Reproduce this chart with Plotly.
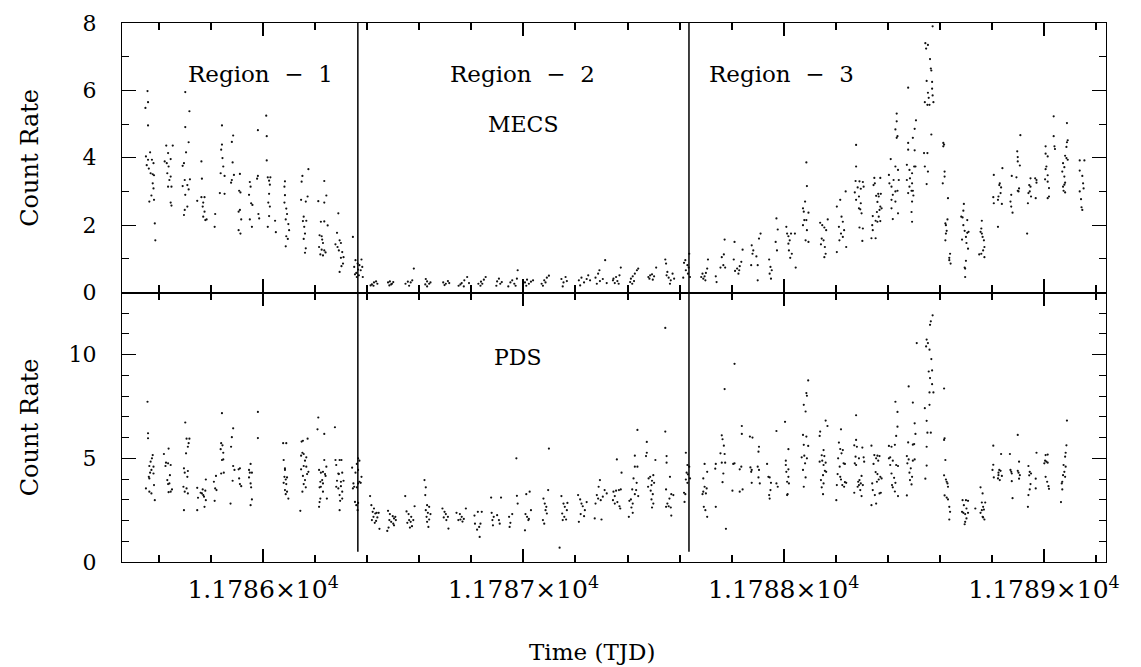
import plotly.graph_objects as go

# Times are given as TJD - 11785; count rates in counts/s
TJD0 = 11785.0
BOUND_1_2 = 11786.364   # boundary Region 1 / Region 2
BOUND_2_3 = 11787.636   # boundary Region 2 / Region 3

x_tick_alias = {"11786": "1.1786×10<sup>4</sup>", "11787": "1.1787×10<sup>4</sup>",
                "11788": "1.1788×10<sup>4</sup>", "11789": "1.1789×10<sup>4</sup>"}
mecs_yticks = [0, 2, 4, 6, 8]
pds_yticks = [0, 5, 10]

# ---------------- MECS ----------------
mecs_r1_t = [
    0.556,0.558,0.548,0.558,0.566,0.550,0.558,0.573,0.579,0.553,0.561,0.568,0.576,0.581,0.576,0.579,0.571,0.581,0.563,0.584,0.586,
    0.628,0.653,0.635,0.622,0.645,0.630,0.637,0.632,0.645,0.640,0.648,0.635,0.645,0.648,
    0.701,0.717,0.701,0.714,0.704,0.696,0.691,0.699,0.709,0.691,0.714,0.719,0.701,0.709,0.699,0.696,
    0.763,0.765,0.747,0.763,0.775,0.770,0.768,0.775,0.770,0.778,0.783,
    0.816,0.814,
    0.842,0.842,0.839,0.844,0.837,0.847,0.852,0.834,0.852,0.885,0.880,0.883,0.888,0.880,0.877,
    0.911,0.908,0.913,0.906,0.911,0.916,0.906,0.913,
    0.980,0.980,0.977,0.949,0.952,0.946,0.954,0.959,0.949,0.957,0.982,0.985,
    1.012,1.014,1.014,1.018,1.028,1.023,1.026,1.023,1.020,1.026,1.018,1.023,
    1.046,1.049,
    1.084,1.082,1.084,1.082,1.089,1.092,1.087,1.097,1.100,1.089,1.095,1.087,
    1.174,1.151,1.148,1.146,1.164,1.171,1.156,1.153,1.166,1.158,1.161,1.156,1.164,1.161,
    1.235,1.243,1.212,1.235,1.222,1.235,1.248,1.217,1.225,1.227,1.230,1.215,1.225,1.235,1.220,1.240,1.230,
    1.289,1.284,1.294,1.278,1.299,1.286,1.291,1.304,1.299,1.309,1.307,1.301,1.294,
    1.345,1.355,1.363,1.350,1.370,1.365,1.378,1.358,1.368,1.375,1.353,1.360,1.381,1.383,
]
mecs_r1_rate = [
    5.98,5.65,5.48,4.96,4.16,4.04,3.94,3.94,3.84,3.78,3.68,3.54,3.51,3.48,3.24,3.09,2.88,2.75,2.70,2.05,1.55,
    4.36,4.36,4.14,3.89,3.96,3.84,3.74,3.54,3.44,3.34,3.14,3.14,2.67,2.58,
    5.95,5.38,4.91,4.46,4.16,3.84,3.76,3.34,3.19,3.16,3.06,3.36,2.90,2.55,2.45,2.30,
    3.89,3.38,2.72,2.83,2.83,2.67,2.55,2.40,2.25,2.15,2.17,
    2.33,1.95,
    4.96,4.39,4.24,3.99,3.54,3.74,3.46,2.95,2.93,4.66,4.47,3.86,3.49,3.34,3.26,
    3.52,3.02,2.97,2.40,2.45,2.17,1.85,1.75,
    4.82,3.46,3.38,3.28,3.14,2.90,2.65,2.60,2.17,1.95,2.33,2.20,
    5.25,4.64,3.92,3.42,3.42,3.32,3.20,2.93,2.67,2.55,1.95,2.27,
    2.13,1.79,
    3.30,3.14,2.89,2.67,2.49,2.33,2.17,2.03,1.85,1.67,1.59,1.37,
    3.66,3.46,3.29,2.75,2.70,2.85,2.25,2.12,2.13,1.95,1.75,1.59,1.31,1.18,
    3.31,2.88,2.71,2.67,2.10,2.11,1.99,1.70,1.67,1.57,1.47,1.35,1.27,1.25,1.13,1.19,1.10,
    2.35,1.77,1.55,1.43,1.47,1.35,1.25,1.20,1.03,1.05,0.86,0.78,0.61,
    1.65,0.96,0.86,0.76,0.81,0.68,0.98,0.58,0.51,0.66,0.54,0.46,0.76,0.46,
]

mecs_r2_t = [
    1.426,1.418,1.434,1.439,1.424,1.413,
    1.480,1.487,1.495,1.500,1.485,1.492,
    1.547,1.556,1.567,1.573,1.561,1.579,
    1.625,1.630,1.638,1.623,1.643,1.630,
    1.692,1.702,1.710,1.697,1.715,
    1.751,1.763,1.773,1.784,1.771,1.791,1.758,
    1.827,1.837,1.848,1.855,1.835,1.842,
    1.899,1.906,1.911,1.896,1.917,
    1.950,1.957,1.965,1.975,1.978,1.942,1.970,
    2.006,2.014,2.021,2.029,2.011,2.037,
    2.070,2.080,2.090,2.098,2.075,2.085,
    2.146,2.154,2.162,2.167,2.151,
    2.213,2.223,2.233,2.243,2.249,2.218,2.256,
    2.277,2.287,2.294,2.292,2.305,2.314,2.282,2.320,
    2.346,2.356,2.361,2.369,2.374,2.351,2.366,2.344,
    2.413,2.420,2.428,2.436,2.441,2.418,2.425,2.410,
    2.480,2.487,2.494,2.502,2.510,2.484,2.497,
    2.545,2.548,2.553,2.558,2.566,2.573,2.579,2.563,2.550,
    2.617,2.622,2.630,2.635,2.624,2.632,2.614,2.637,2.640,
]
mecs_r2_rate = [
    0.30,0.24,0.33,0.26,0.20,0.21,
    0.30,0.33,0.26,0.31,0.21,0.24,
    0.26,0.32,0.30,0.36,0.20,0.71,
    0.40,0.33,0.26,0.24,0.30,0.18,
    0.30,0.26,0.34,0.22,0.28,
    0.20,0.28,0.36,0.46,0.18,0.28,0.24,
    0.26,0.32,0.38,0.46,0.20,0.26,
    0.33,0.41,0.26,0.20,0.31,
    0.30,0.36,0.26,0.41,0.66,0.18,0.20,
    0.30,0.38,0.26,0.32,0.20,0.36,
    0.26,0.36,0.44,0.50,0.20,0.30,
    0.40,0.30,0.46,0.34,0.18,
    0.36,0.44,0.30,0.40,0.51,0.21,0.36,
    0.44,0.56,0.34,0.66,0.40,0.96,0.26,0.28,
    0.41,0.46,0.34,0.51,0.74,0.28,0.26,0.36,
    0.41,0.48,0.56,0.66,0.71,0.26,0.34,0.31,
    0.46,0.51,0.54,0.48,0.74,0.41,0.38,
    0.98,0.86,0.61,0.44,0.36,0.56,0.41,0.26,0.51,
    0.88,0.96,0.81,0.74,0.66,0.56,0.44,1.15,0.46,
]

mecs_r3_t = [
    2.688,2.696,2.701,2.706,2.709,2.691,2.699,2.683,
    2.739,2.742,2.757,2.762,2.770,2.775,2.768,2.773,
    2.811,2.808,2.813,2.821,2.831,2.837,2.842,2.826,2.829,
    2.877,2.883,2.880,2.895,2.900,2.905,2.911,2.900,2.875,
    2.944,2.949,2.946,2.951,2.954,2.972,2.977,2.969,2.974,
    3.010,3.013,3.018,3.023,3.028,3.018,3.020,3.025,3.043,3.046,3.031,
    3.087,3.089,3.082,3.074,3.077,3.079,3.087,3.095,3.074,3.089,3.084,3.095,
    3.140,3.148,3.156,3.163,3.169,3.143,3.153,3.158,3.161,3.156,3.146,
    3.204,3.217,3.222,3.227,3.212,3.220,3.227,3.238,3.232,3.240,3.204,3.214,
    3.278,3.278,3.276,3.291,3.304,3.307,3.284,3.296,3.273,3.289,3.278,3.296,3.289,3.294,3.299,3.291,3.304,3.302,
    3.348,3.371,3.350,3.345,3.363,3.373,3.355,3.365,3.360,3.371,3.376,3.368,3.358,3.342,3.365,3.353,3.360,3.371,3.340,3.342,3.337,3.353,
    3.434,3.434,3.429,3.434,3.437,3.411,3.429,3.439,3.404,3.422,3.442,3.406,3.414,3.429,3.437,3.419,3.414,3.429,3.414,3.439,3.419,
    3.478,3.508,3.503,3.496,3.478,3.478,3.503,3.473,3.483,3.501,3.506,3.493,3.473,3.485,3.493,3.483,3.491,3.496,3.478,3.498,3.493,3.491,3.493,
    3.572,3.544,3.554,3.547,3.562,3.565,3.567,3.549,3.570,3.570,3.554,3.572,3.557,3.542,3.552,3.560,3.575,3.567,3.539,3.552,3.542,3.554,3.549,
    3.613,3.616,3.613,3.618,3.618,3.611,3.631,3.621,3.629,3.623,3.626,3.623,3.621,3.639,3.636,3.641,3.636,
    3.692,3.690,3.682,3.687,3.705,3.690,3.695,3.705,3.710,3.700,3.685,3.702,3.708,3.700,3.695,3.697,3.697,
    3.761,3.759,3.756,3.761,3.764,3.769,3.771,3.766,3.759,3.771,3.751,
    3.807,3.840,3.805,3.807,3.830,3.828,3.835,3.833,3.825,3.823,3.838,3.823,
    3.909,3.897,3.899,3.899,3.907,3.876,3.894,3.874,3.871,3.879,3.874,3.899,3.902,3.904,
    3.948,3.966,3.971,3.943,3.971,3.948,3.940,3.945,3.950,3.968,3.938,3.935,
    4.037,4.037,4.006,4.040,4.042,4.006,4.014,4.009,4.006,4.014,4.004,4.014,4.019,4.019,4.014,
    4.088,4.091,4.088,4.086,4.081,4.086,4.091,4.073,4.078,4.070,4.078,4.081,4.078,4.073,4.075,4.081,
    4.137,4.155,4.137,4.147,4.150,4.152,4.137,4.142,4.144,4.147,
]
mecs_r3_rate = [
    0.56,0.48,0.58,0.71,0.98,0.41,0.36,0.46,
    0.48,0.31,0.74,1.05,1.13,0.74,0.81,1.57,
    1.50,0.98,0.64,0.71,0.78,0.91,1.27,0.56,0.66,
    1.40,1.25,1.15,1.07,0.81,1.60,1.75,0.36,0.81,
    0.98,0.76,0.56,0.41,0.66,2.20,1.87,1.50,1.25,
    1.95,1.75,1.67,1.55,1.75,1.45,1.25,1.03,1.75,0.74,1.15,
    3.86,3.16,2.70,2.50,2.40,2.15,2.15,2.37,2.00,1.85,1.55,1.50,
    2.07,2.00,1.93,1.85,2.17,1.43,1.55,1.35,1.15,1.05,1.60,
    2.55,2.75,2.25,2.10,1.95,1.75,1.65,3.00,1.85,1.35,1.20,1.55,
    4.38,3.74,3.31,3.30,3.28,3.14,3.12,3.08,2.97,2.85,2.75,2.65,2.50,2.47,2.35,1.93,1.90,1.53,
    3.40,3.40,3.24,3.19,2.93,2.93,2.87,2.85,2.69,2.55,2.50,2.45,2.39,2.27,2.25,2.13,2.10,2.12,2.00,1.85,1.61,1.61,
    5.31,5.08,4.84,4.59,4.64,3.96,3.74,3.64,3.49,3.34,3.34,3.24,3.14,3.00,3.02,2.90,2.75,2.70,2.50,2.35,2.18,
    6.08,5.11,4.86,4.59,4.44,4.24,4.22,3.79,3.64,3.74,3.74,3.54,3.34,3.39,3.24,3.14,3.02,3.02,2.95,2.88,2.70,2.39,2.10,
    7.90,7.40,7.35,7.24,6.93,6.65,6.59,6.28,6.25,6.05,5.93,5.85,5.78,5.65,5.57,5.57,5.65,4.69,4.14,4.14,3.74,3.59,3.22,
    4.44,4.39,4.34,3.59,3.44,3.24,2.80,2.05,2.17,2.00,1.83,1.75,1.55,1.15,0.96,0.86,1.03,
    2.63,2.43,2.25,2.23,2.15,2.00,1.83,1.77,1.80,1.65,1.57,1.47,1.30,0.94,0.74,0.71,0.46,
    2.13,1.90,1.80,1.75,1.65,1.55,1.35,1.25,1.15,1.05,1.13,
    3.49,3.69,2.83,2.65,3.24,3.19,3.12,2.95,2.85,2.75,2.63,1.95,
    4.67,4.19,4.02,3.89,3.77,3.46,3.42,2.90,2.70,2.37,2.55,3.02,3.00,3.09,
    3.39,3.39,3.34,3.19,3.26,3.14,2.95,3.00,2.85,2.80,2.65,1.75,
    5.23,4.64,4.34,4.34,4.26,4.12,4.04,3.74,3.66,3.48,3.36,3.29,3.10,2.85,2.80,
    5.03,4.52,4.46,4.32,4.06,3.99,3.94,3.84,3.72,3.59,3.44,3.26,3.20,3.14,3.02,2.97,
    3.92,3.92,3.62,3.46,3.24,3.09,3.00,2.77,2.53,2.45,
]

# ---------------- PDS ----------------
pds_r1_t = [
    0.556,0.558,0.558,0.576,0.573,0.568,0.579,0.563,0.571,0.566,0.561,0.579,0.563,0.581,0.550,0.563,0.571,0.584,
    0.637,0.619,0.627,0.635,0.645,0.625,0.642,0.632,0.640,0.635,0.650,0.645,0.637,
    0.701,0.706,0.717,0.714,0.711,0.704,0.696,0.711,0.699,0.709,0.694,0.706,0.699,0.711,0.696,
    0.780,0.747,0.768,0.778,0.765,0.770,0.760,0.773,0.750,0.780,0.775,0.747,
    0.842,0.839,0.844,0.837,0.847,0.842,0.847,0.849,0.839,0.819,0.811,0.816,0.821,0.814,
    0.885,0.880,0.877,0.885,0.890,0.883,0.911,0.906,0.908,0.911,0.916,0.875,
    0.980,0.980,0.952,0.946,0.949,0.946,0.957,0.952,0.954,0.957,0.952,
    1.077,1.089,1.079,1.084,1.084,1.082,1.092,1.087,1.079,1.089,1.084,1.092,1.087,1.097,
    1.148,1.153,1.171,1.151,1.156,1.146,1.166,1.161,1.156,1.146,1.166,1.174,1.169,1.153,1.161,1.156,1.151,1.164,1.143,
    1.212,1.209,1.235,1.235,1.243,1.215,1.230,1.222,1.238,1.240,1.227,1.220,1.230,1.222,1.217,1.230,1.220,1.245,1.217,1.215,
    1.276,1.278,1.294,1.301,1.281,1.289,1.291,1.304,1.309,1.284,1.299,1.281,1.289,1.299,1.304,1.294,1.304,1.296,1.294,
    1.342,1.365,1.370,1.360,1.365,1.355,1.378,1.370,1.347,1.350,1.365,1.360,1.345,1.375,1.353,1.365,1.358,1.363,
]
pds_r1_rate = [
    7.73,6.21,5.97,5.16,5.00,4.84,4.60,4.63,4.44,4.31,4.11,4.27,4.03,3.71,3.55,3.39,3.31,2.98,
    5.47,5.21,4.79,4.76,4.68,4.63,4.19,3.95,3.79,3.76,3.50,3.39,3.37,
    6.73,5.95,5.95,5.73,5.56,5.24,4.52,4.39,4.31,4.11,3.63,3.55,3.39,3.31,2.50,
    3.98,3.58,3.50,3.44,3.31,3.23,3.34,3.15,3.10,2.98,2.66,2.50,
    7.18,5.73,5.63,5.44,5.27,4.92,4.95,4.31,4.27,4.15,3.87,3.55,3.47,2.95,
    6.45,6.02,5.56,4.63,4.44,3.92,4.52,4.47,4.03,3.76,3.66,2.82,
    7.24,5.98,4.73,4.44,4.31,4.08,4.31,3.79,3.60,3.02,2.74,
    5.73,5.73,4.92,4.52,4.44,4.11,4.08,3.98,3.82,3.76,3.47,3.39,3.27,3.06,
    5.81,5.85,5.95,5.27,5.21,5.13,5.05,4.89,4.63,4.47,4.60,4.35,4.24,4.15,3.95,3.76,3.39,3.60,2.47,
    6.97,6.40,6.18,4.92,4.60,4.44,4.35,4.31,4.24,4.15,3.95,3.87,3.79,3.63,3.60,3.39,3.06,3.06,2.89,2.66,
    6.50,4.92,4.92,4.92,4.68,4.27,4.24,4.31,3.92,3.92,3.87,3.63,3.55,3.66,3.39,3.23,3.06,2.95,2.50,
    4.55,5.00,4.89,4.73,4.44,4.31,4.11,3.87,3.79,3.63,3.79,3.60,3.55,3.82,2.90,2.85,2.74,2.50,
]

pds_r2_t = [
    1.411,1.416,1.426,1.421,1.431,1.436,1.424,1.439,1.418,1.429,1.434,1.444,1.447,
    1.480,1.487,1.498,1.503,1.508,1.485,1.492,1.500,1.510,1.482,1.477,1.503,
    1.546,1.551,1.559,1.569,1.561,1.567,1.577,1.554,1.572,1.564,1.582,
    1.620,1.625,1.623,1.630,1.638,1.625,1.633,1.643,1.628,1.638,1.630,1.635,
    1.689,1.697,1.702,1.694,1.704,1.712,1.710,
    1.743,1.756,1.763,1.771,1.779,1.750,1.766,1.758,
    1.812,1.814,1.822,1.830,1.835,1.840,1.825,1.832,
    1.876,1.878,1.886,1.881,1.883,1.899,1.906,1.909,1.914,
    1.945,1.950,1.947,1.957,1.973,1.975,1.978,
    2.008,2.014,2.019,2.006,2.021,2.011,2.024,2.029,
    2.077,2.082,2.085,2.090,2.095,2.098,2.075,2.080,2.088,
    2.146,2.154,2.159,2.167,2.149,2.157,2.164,2.169,2.151,2.139,
    2.210,2.218,2.223,2.228,2.236,2.243,2.220,2.233,2.213,
    2.294,2.289,2.282,2.287,2.297,2.305,2.312,2.277,2.300,2.274,2.320,
    2.359,2.377,2.346,2.356,2.367,2.374,2.351,2.344,2.361,2.369,2.351,2.372,
    2.438,2.428,2.428,2.438,2.423,2.435,2.433,2.418,2.428,2.441,2.413,2.407,2.420,2.415,2.420,2.405,
    2.474,2.474,2.471,2.507,2.499,2.487,2.481,2.494,2.502,2.492,2.479,2.489,2.497,2.492,2.499,2.494,
    2.545,2.545,2.550,2.550,2.563,2.548,2.568,2.576,2.561,2.553,2.558,2.566,2.548,2.568,
    2.624,2.630,2.637,2.627,2.632,2.640,2.624,2.630,2.617,2.622,2.619,
]
pds_r2_rate = [
    3.18,2.74,2.58,2.42,2.34,2.37,2.18,2.15,2.02,1.89,1.98,2.37,1.60,
    2.47,2.31,2.21,2.10,2.18,2.02,1.94,1.85,2.02,1.66,1.50,1.77,
    3.18,2.44,2.31,2.18,2.02,1.94,2.02,1.89,1.73,1.66,2.69,
    3.95,3.60,3.23,2.74,2.66,2.50,2.37,2.31,2.18,2.05,1.94,1.69,
    2.58,2.42,2.31,2.15,2.02,1.61,2.18,
    2.37,2.31,2.18,2.08,2.58,2.02,1.95,2.05,
    2.24,1.85,1.56,1.69,1.85,2.42,2.42,1.21,
    3.11,2.37,2.18,2.02,1.77,2.26,2.02,1.85,3.11,
    2.18,1.89,1.69,2.31,5.00,3.19,2.82,
    2.31,2.18,2.02,1.53,2.08,3.27,3.39,2.50,
    3.06,2.82,2.50,2.34,3.47,5.47,2.02,1.85,2.66,
    3.18,2.82,2.66,2.50,2.34,2.18,2.05,2.85,2.02,0.69,
    3.23,3.02,2.82,2.69,2.50,2.89,2.31,2.21,1.94,
    3.95,3.63,3.23,3.06,2.98,3.15,3.47,2.82,2.05,2.10,3.31,
    4.95,4.31,3.39,3.44,3.47,3.50,3.18,2.98,2.89,2.69,2.82,2.58,
    6.37,5.13,4.60,4.60,4.03,3.82,3.47,3.50,3.27,3.18,3.02,2.95,2.82,2.63,2.37,2.18,
    5.79,5.27,5.11,4.92,4.19,4.11,4.03,3.92,3.82,3.71,3.63,3.44,3.27,3.02,2.82,2.63,
    11.29,6.29,5.11,4.79,4.11,3.50,3.27,3.23,3.06,2.82,2.69,2.63,2.66,2.24,
    5.27,4.68,4.60,4.31,4.23,4.03,3.98,3.82,3.34,3.27,2.90,
]

pds_r3_t = [
    2.696,2.706,2.691,2.696,2.704,2.691,2.701,2.688,2.693,2.699,2.706,2.739,2.737,2.739,
    2.773,2.762,2.765,2.770,2.757,2.773,2.762,2.775,2.768,2.765,2.778,
    2.811,2.839,2.839,2.806,2.811,2.837,2.831,2.842,2.831,2.803,
    2.870,2.880,2.905,2.903,2.872,2.877,2.875,2.900,2.905,2.903,2.877,2.908,
    2.972,2.936,2.941,2.946,2.951,2.949,2.944,2.946,2.972,2.977,
    3.005,3.018,3.008,3.008,3.018,3.010,3.018,3.013,3.020,3.015,3.013,
    3.094,3.087,3.089,3.077,3.084,3.074,3.087,3.077,3.094,3.069,3.079,3.089,3.082,3.074,3.084,3.077,
    3.161,3.168,3.140,3.138,3.153,3.146,3.156,3.148,3.138,3.161,3.153,3.158,3.163,3.151,3.143,3.153,3.146,3.151,
    3.220,3.212,3.217,3.227,3.222,3.209,3.230,3.235,3.215,3.207,3.217,3.220,3.225,3.235,3.240,3.204,3.232,3.202,
    3.278,3.278,3.271,3.281,3.302,3.276,3.307,3.289,3.273,3.309,3.278,3.299,3.291,3.286,3.296,3.304,3.289,3.284,3.294,3.271,3.299,
    3.337,3.360,3.348,3.355,3.363,3.345,3.368,3.353,3.360,3.371,3.365,3.376,3.340,3.358,3.342,3.373,3.368,3.350,3.337,3.355,
    3.429,3.437,3.437,3.432,3.427,3.404,3.414,3.409,3.404,3.419,3.432,3.439,3.409,3.414,3.424,3.416,3.429,3.419,3.439,3.427,
    3.511,3.480,3.496,3.503,3.506,3.501,3.496,3.478,3.473,3.480,3.496,3.503,3.475,3.488,3.483,3.493,3.485,3.491,3.473,
    3.572,3.565,3.562,3.549,3.554,3.547,3.560,3.567,3.557,3.570,3.562,3.570,3.560,3.575,3.560,3.542,3.549,3.552,3.565,3.549,3.549,3.544,
    3.616,3.616,3.618,3.621,3.616,3.623,3.626,3.629,3.631,3.618,3.626,3.631,3.636,3.639,3.636,
    3.687,3.700,3.708,3.692,3.702,3.685,3.697,3.690,3.702,3.697,3.695,3.708,
    3.736,3.756,3.764,3.761,3.774,3.766,3.761,3.756,3.769,3.764,3.771,3.766,
    3.805,3.835,3.805,3.802,3.828,3.833,3.825,3.825,3.838,3.830,3.807,3.823,
    3.899,3.869,3.904,3.871,3.876,3.874,3.899,3.902,3.907,3.876,3.879,3.904,
    3.971,3.940,3.945,3.950,3.943,3.948,3.945,3.968,3.940,3.938,3.968,
    4.006,4.014,4.004,4.009,4.014,4.001,4.006,4.012,4.017,4.019,
    4.088,4.086,4.083,4.081,4.075,4.083,4.078,4.073,4.081,4.070,4.068,4.070,4.065,
]
pds_r3_rate = [
    4.73,4.35,4.03,3.63,3.55,3.39,3.31,3.27,2.66,2.50,2.18,4.73,4.50,2.66,
    8.34,6.11,5.92,5.61,5.24,5.21,4.79,4.79,4.27,3.85,1.60,
    9.56,6.56,6.18,4.73,4.76,4.60,4.47,3.50,3.39,3.44,
    6.05,6.00,5.56,5.32,4.56,4.44,4.35,4.60,4.44,4.08,3.82,3.79,
    6.32,4.73,4.11,4.08,3.82,3.47,3.23,3.06,3.79,3.63,
    6.76,5.44,4.89,4.68,4.47,4.35,4.11,3.87,3.79,3.27,3.23,
    8.76,8.15,8.02,7.58,7.26,6.13,6.05,5.65,5.60,5.05,5.13,5.00,4.76,4.44,4.08,3.63,
    6.82,6.56,6.29,6.08,5.40,5.15,5.11,4.89,4.84,4.79,4.68,4.40,4.35,4.19,3.95,3.79,3.60,3.27,
    6.40,5.76,5.45,5.40,5.24,5.00,4.76,4.73,4.60,4.24,4.11,3.98,3.71,3.85,3.82,3.71,3.63,2.98,
    7.08,5.89,5.63,5.56,5.52,5.08,5.05,5.00,4.76,4.84,4.68,4.15,3.95,3.87,3.79,3.71,3.71,3.63,3.47,3.34,3.18,
    5.61,5.13,5.16,5.00,4.89,4.73,5.11,4.34,4.24,4.11,3.98,4.03,3.79,3.87,3.47,3.34,3.31,3.23,2.74,2.82,
    7.73,7.24,6.53,6.08,5.65,5.60,5.56,5.05,5.00,4.89,4.68,4.63,4.68,4.27,4.06,3.71,3.82,3.60,3.18,3.40,
    10.56,8.47,7.69,6.69,6.18,5.69,5.66,5.77,5.11,4.95,4.89,4.95,4.76,4.52,4.31,4.11,3.95,3.74,3.21,
    11.90,11.61,11.44,10.73,10.56,10.40,10.24,9.79,9.19,9.24,8.87,8.58,8.18,8.18,7.58,7.42,6.81,6.24,6.24,5.56,4.65,4.02,
    8.37,5.89,5.97,4.92,4.18,3.98,3.87,3.79,3.63,3.21,3.11,3.02,2.66,2.42,2.05,
    2.98,2.98,2.95,2.74,2.58,2.42,2.31,2.37,2.10,1.94,1.82,2.37,
    2.58,3.60,3.31,2.87,2.87,2.66,2.50,2.37,2.53,2.18,2.05,2.15,
    5.61,5.21,4.69,4.44,4.44,4.40,4.31,4.19,4.15,3.95,4.08,4.03,
    6.13,5.21,4.84,4.44,4.27,4.35,4.40,4.31,4.19,3.90,3.08,4.02,
    5.27,4.63,4.35,4.27,4.18,3.76,3.50,3.55,3.23,2.66,4.02,
    5.16,5.18,4.89,4.84,4.79,4.76,4.11,3.87,3.66,3.53,
    6.82,5.63,5.27,5.08,4.68,4.60,4.35,4.19,4.11,3.87,3.79,3.50,2.89,
]

pairs = [(mecs_r1_t, mecs_r1_rate), (mecs_r2_t, mecs_r2_rate), (mecs_r3_t, mecs_r3_rate),
         (pds_r1_t, pds_r1_rate), (pds_r2_t, pds_r2_rate), (pds_r3_t, pds_r3_rate)]
for a, b in pairs:
    assert len(a) == len(b), (len(a), len(b))

mecs_time = [TJD0 + t for t in mecs_r1_t + mecs_r2_t + mecs_r3_t]
mecs_rate = mecs_r1_rate + mecs_r2_rate + mecs_r3_rate
pds_time = [TJD0 + t for t in pds_r1_t + pds_r2_t + pds_r3_t]
pds_rate = pds_r1_rate + pds_r2_rate + pds_r3_rate

FONT = "DejaVu Serif, Liberation Serif, serif"
DOT = dict(size=2.2, color="#111111")

fig = go.Figure()
fig.add_trace(go.Scatter(x=mecs_time, y=mecs_rate, mode="markers", marker=DOT,
                         xaxis="x", yaxis="y", showlegend=False, name="MECS"))
fig.add_trace(go.Scatter(x=pds_time, y=pds_rate, mode="markers", marker=DOT,
                         xaxis="x2", yaxis="y2", showlegend=False, name="PDS"))

XR = [11785.458, 11789.238]
common_x = dict(range=XR, showgrid=False, zeroline=False, showline=True, linecolor="black",
                linewidth=1.2, ticks="inside", ticklen=13, tickwidth=1.6, tickcolor="black",
                mirror="ticks", tickmode="linear", tick0=11786, dtick=1, tickformat="d",
                minor=dict(ticks="inside", ticklen=7, tickwidth=1.5, tickcolor="black",
                           tickmode="linear", tick0=11786, dtick=0.2))
common_y = dict(showgrid=False, zeroline=False, showline=True, linecolor="black",
                linewidth=1.2, ticks="inside", ticklen=14, tickwidth=1.4, tickcolor="black",
                mirror="ticks", tickmode="array",
                tickfont=dict(family=FONT, size=22, color="black"), ticklabelstandoff=20,
                minor=dict(ticks="inside", ticklen=7, tickwidth=1.3, tickcolor="black", dtick=1))

fig.update_layout(
    width=1141, height=667,
    margin=dict(l=122, r=35, t=23, b=105),
    paper_bgcolor="white", plot_bgcolor="white",
    font=dict(family=FONT, size=22, color="black"),
    xaxis=dict(common_x, anchor="y", showticklabels=False),
    xaxis2=dict(common_x, anchor="y2", matches="x", labelalias=x_tick_alias,
                tickfont=dict(family=FONT, size=25, color="black"), ticklabelstandoff=5),
    yaxis=dict(common_y, domain=[0.5, 1.0], range=[0, 8], tickvals=mecs_yticks),
    yaxis2=dict(common_y, domain=[0.0, 0.5], range=[0, 13], tickvals=pds_yticks),
)

# Region boundaries
for xb in (BOUND_1_2, BOUND_2_3):
    fig.add_shape(type="line", xref="x", yref="y", x0=xb, x1=xb, y0=0, y1=8,
                  line=dict(color="black", width=1.5))
    fig.add_shape(type="line", xref="x2", yref="y2", x0=xb, x1=xb, y0=0.5, y1=13,
                  line=dict(color="black", width=1.5))

NB = "\u00a0"
region_labels = ["Region" + NB * 2 + "\u2212" + NB * 2 + n for n in ("1", "2", "3")]
region_x = [11785.99, 11786.995, 11787.99]
for txt, xx in zip(region_labels, region_x):
    fig.add_annotation(x=xx, y=6.5, xref="x", yref="y", text=txt, showarrow=False,
                       font=dict(family=FONT, size=23, color="black"))
fig.add_annotation(x=11787.0, y=5.0, xref="x", yref="y", text="MECS", showarrow=False,
                   font=dict(family=FONT, size=22, color="black"))
fig.add_annotation(x=11786.98, y=9.85, xref="x2", yref="y2", text="PDS", showarrow=False,
                   font=dict(family=FONT, size=22, color="black"))

# Axis titles
for yy in (0.75, 0.25):
    fig.add_annotation(x=-0.0935, y=yy, xref="paper", yref="paper", text="Count Rate",
                       textangle=-90, showarrow=False, xanchor="center", yanchor="middle",
                       font=dict(family=FONT, size=24, color="black"))
fig.add_annotation(x=0.478, y=-0.167, xref="paper", yref="paper", text="Time (TJD)",
                   showarrow=False, xanchor="center", yanchor="middle",
                   font=dict(family=FONT, size=23, color="black"))

fig.write_html("out.html", config={"displayModeBar": False},
               post_script="document.body.style.margin='0';")
